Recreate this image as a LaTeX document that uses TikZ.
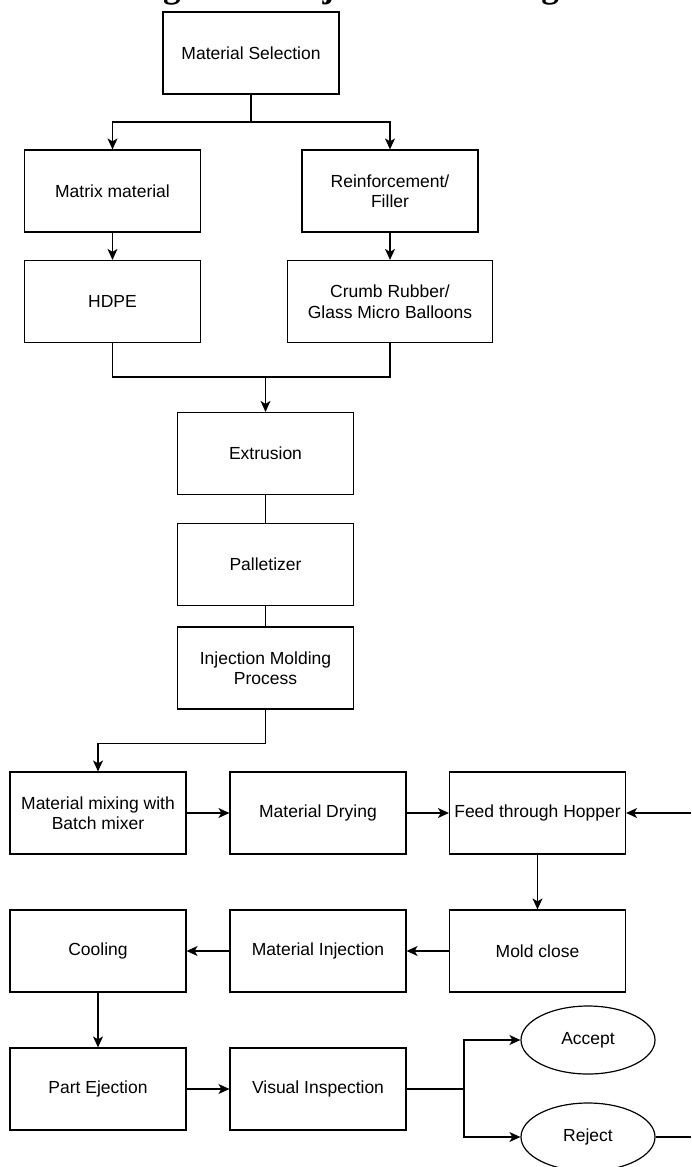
\documentclass[tikz,border=0pt]{standalone}
\usepackage{fontspec}
\setmainfont{Liberation Sans}
\newfontfamily\titlefont{Liberation Serif}
\usetikzlibrary{arrows.meta, shapes.geometric}

\begin{document}
\begin{tikzpicture}[x=1pt, y=-1pt,
    box/.style={draw, line width=1.2pt, rectangle, minimum width=176pt, minimum height=82pt,
        inner sep=2pt, align=center, font=\fontsize{17.5}{20.5}\selectfont},
    outcome/.style={draw, line width=1.2pt, ellipse, minimum width=134pt, minimum height=68pt,
        inner sep=0pt, font=\fontsize{17.5}{20.5}\selectfont},
    line/.style={line width=1.2pt},
    arr/.style={line width=1.2pt, -{Stealth[length=11pt, width=10pt, inset=3pt]}}]
    % Page frame and clipping
    \path[use as bounding box, clip] (0,0) rectangle (691,1167);
    \fill[white] (0,0) rectangle (691,1167);

    % Title (cut off at the top edge)
    \node[font=\titlefont\bfseries\fontsize{35}{40}\selectfont, anchor=south east, inner sep=0pt] (title) at (559,5) {Flow Diagram of Injection Molding};

    % Material selection
    \node[box] (matsel) at (251,53) {Material Selection};
    \node[box] (matrix) at (112.5,191) {Matrix material};
    \node[box] (reinf) at (390,191) {Reinforcement/\\Filler};
    \node[box] (hdpe) at (112.5,301.5) {HDPE};
    \node[box, minimum width=205pt] (crumb) at (390,301.5) {Crumb Rubber/\\Glass Micro Balloons};

    % Compounding
    \node[box] (extr) at (265.5,453.5) {Extrusion};
    \node[box] (pellet) at (265.5,564.5) {Palletizer};
    \node[box] (injmold) at (265.5,668) {Injection Molding\\Process};

    % Molding cycle
    \node[box] (mixing) at (98,813) {Material mixing with\\Batch mixer};
    \node[box] (drying) at (318,813) {Material Drying};
    \node[box] (hopper) at (537.5,813) {Feed through Hopper};
    \node[box] (moldclose) at (537.5,951) {Mold close};
    \node[box] (matinj) at (318,951) {Material Injection};
    \node[box] (cooling) at (98,951) {Cooling};
    \node[box] (eject) at (98,1089) {Part Ejection};
    \node[box] (inspect) at (318,1089) {Visual Inspection};

    % Inspection result
    \node[outcome] (accept) at (588,1040) {Accept};
    \node[outcome] (reject) at (588,1137) {Reject};

    % Junction points
    \coordinate (split) at (251,122);
    \coordinate (merge) at (265.5,377);
    \coordinate (fork) at (464,1089);
    \coordinate (feedin) at (691,813);
    \coordinate (rejout) at (691,1137);

    % Connectors
    \draw[line] (matsel.south) -- (split);
    \draw[arr] (split) -| (matrix.north);
    \draw[arr] (split) -| (reinf.north);
    \draw[arr] (matrix) -- (hdpe);
    \draw[arr] (reinf) -- (crumb);
    \draw[line] (hdpe.south) |- (merge);
    \draw[line] (crumb.south) |- (merge);
    \draw[arr] (merge) -- (extr.north);
    \draw[line] (extr) -- (pellet);
    \draw[line] (pellet) -- (injmold);
    \draw[arr] (injmold.south) -- ++(0,34) -| (mixing.north);
    \draw[arr] (mixing) -- (drying);
    \draw[arr] (drying) -- (hopper);
    \draw[arr] (feedin) -- (hopper.east);
    \draw[arr] (hopper) -- (moldclose);
    \draw[arr] (moldclose) -- (matinj);
    \draw[arr] (matinj) -- (cooling);
    \draw[arr] (cooling) -- (eject);
    \draw[arr] (eject) -- (inspect);
    \draw[line] (inspect.east) -- (fork);
    \draw[arr] (fork) |- (accept.west);
    \draw[arr] (fork) |- (reject.west);
    \draw[line] (reject.east) -- (rejout);
\end{tikzpicture}
\end{document}
